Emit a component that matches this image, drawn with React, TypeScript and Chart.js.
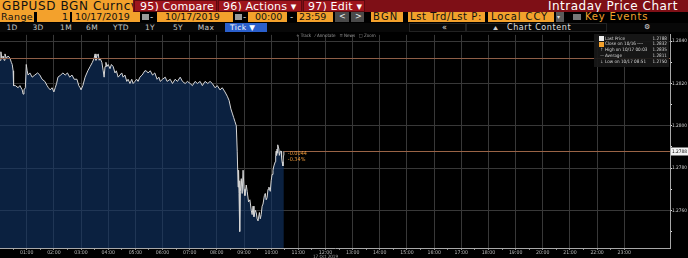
import React, { useEffect, useRef } from "react";
import { Chart, registerables } from "chart.js";
Chart.register(...registerables);

// minutes after midnight, 17 Oct 2019
const minutes = [
  1, 3, 5, 8, 10, 12, 15, 19, 23, 26, 28, 30, 31, 35, 41, 45, 50, 52, 54, 57, 59, 61, 63, 67, 72, 78, 84, 89, 94, 100,
  105, 108, 112, 116, 120, 123, 126, 129, 135, 140, 145, 150, 155, 160, 165, 171, 175, 178, 180, 184, 189, 195, 200, 205,
  209, 211, 213, 215, 218, 220, 222, 226, 229, 231, 233, 235, 237, 240, 244, 247, 251, 255, 258, 262, 266, 270, 273, 277,
  281, 284, 288, 292, 295, 299, 303, 306, 310, 315, 321, 324, 328, 333, 338, 343, 348, 352, 355, 360, 366, 370, 377, 382,
  388, 393, 399, 404, 410, 415, 421, 426, 432, 437, 443, 448, 454, 460, 465, 470, 476, 481, 487, 492, 498, 503, 507, 511,
  514, 517, 520, 523, 525, 527, 528, 529, 530, 531, 532, 534, 536, 538, 540, 542, 545, 547, 550, 553, 556, 558, 560, 562,
  565, 567, 569, 571, 574, 576, 578, 580, 582, 585, 587, 589, 591, 593, 595, 598, 600, 602, 604, 606, 609, 610, 611, 612,
  613, 614, 615, 617, 618, 620, 622, 623, 624, 626, 627, 628,
];
const prices = [
  1.2831, 1.2835, 1.2832, 1.2833, 1.2831, 1.2834, 1.2832, 1.2833, 1.2832, 1.2830, 1.2829, 1.2826, 1.2819, 1.2819, 1.2818,
  1.2819, 1.2817, 1.2815, 1.2817, 1.2818, 1.2829, 1.2826, 1.2824, 1.2825, 1.2823, 1.2824, 1.2825, 1.2824, 1.2822, 1.2821,
  1.2819, 1.2818, 1.2817, 1.2818, 1.2816, 1.2818, 1.2820, 1.2823, 1.2824, 1.2825, 1.2824, 1.2825, 1.2823, 1.2824, 1.2822,
  1.2822, 1.2819, 1.2818, 1.2817, 1.2819, 1.2823, 1.2826, 1.2828, 1.2830, 1.2832, 1.2834, 1.2831, 1.2833, 1.2834, 1.2831,
  1.2832, 1.2830, 1.2826, 1.2823, 1.2828, 1.2830, 1.2828, 1.2829, 1.2827, 1.2829, 1.2828, 1.2825, 1.2826, 1.2823, 1.2824,
  1.2825, 1.2823, 1.2824, 1.2821, 1.2822, 1.2820, 1.2822, 1.2820, 1.2821, 1.2822, 1.2821, 1.2823, 1.2824, 1.2826, 1.2826,
  1.2825, 1.2826, 1.2824, 1.2825, 1.2822, 1.2823, 1.2821, 1.2822, 1.2823, 1.2821, 1.2822, 1.2820, 1.2822, 1.2821, 1.2823,
  1.2821, 1.2820, 1.2821, 1.2820, 1.2819, 1.2821, 1.2820, 1.2821, 1.2819, 1.2821, 1.2820, 1.2821, 1.2820, 1.2818, 1.2819,
  1.2817, 1.2818, 1.2816, 1.2814, 1.2812, 1.2808, 1.2806, 1.2804, 1.2802, 1.2800, 1.2788, 1.2771, 1.2779, 1.2768, 1.2774,
  1.2750, 1.2769, 1.2775, 1.2768, 1.2779, 1.2770, 1.2767, 1.2772, 1.2769, 1.2764, 1.2765, 1.2760, 1.2758, 1.2762, 1.2757,
  1.2760, 1.2759, 1.2756, 1.2755, 1.2759, 1.2756, 1.2758, 1.2762, 1.2763, 1.2767, 1.2768, 1.2765, 1.2766, 1.2770, 1.2771,
  1.2769, 1.2774, 1.2777, 1.2779, 1.2781, 1.2783, 1.2786, 1.2788, 1.2786, 1.2789, 1.2787, 1.2791, 1.2789, 1.2786, 1.2788,
  1.2788, 1.2785, 1.2783, 1.2781, 1.2786, 1.2788,
];

const hourLabels = [
  "01:00", "02:00", "03:00", "04:00", "05:00", "06:00", "07:00", "08:00", "09:00", "10:00", "11:00", "12:00",
  "13:00", "14:00", "15:00", "16:00", "17:00", "18:00", "19:00", "20:00", "21:00", "22:00", "23:00",
];
const yTicks = [1.284, 1.283, 1.282, 1.281, 1.28, 1.279, 1.278, 1.277, 1.276, 1.275];
const yLabelled = [1.284, 1.282, 1.28, 1.278, 1.276];
const yMin = 1.27422;
const yMax = 1.2843;
const xMin = 1;
const xMax = 1481;

const prevClose = 1.2832;
const lastPrice = 1.2788;
const netChange = "-0.0044";
const pctChange = "-0.34%";

const legendNames = ["Last Price", "Close on 10/16 ----", "High on 10/17 00:03", "Average", "Low on 10/17 08:51"];
const legendValues = ["1.2788", "1.2832", "1.2835", "1.2811", "1.2750"];
const legendMarks = ["sq-white", "sq-orange", "↑", "—", "↓"];

const FONT = "'DejaVu Sans', sans-serif";
const NARROW = "'Liberation Sans Narrow', 'DejaVu Sans Condensed', 'Liberation Sans', sans-serif";
const ORANGE = "#f3a12c";

function hhmmToMin(s: string) {
  const [h, m] = s.split(":").map(Number);
  return h * 60 + m;
}

const refPlugin = {
  id: "refLines",
  afterDatasetsDraw(chart: any) {
    const { ctx, chartArea, scales } = chart;
    const x = scales.x;
    const y = scales.y;
    ctx.save();
    ctx.lineWidth = 1;
    ctx.strokeStyle = "#8e5e47";
    const yc = Math.round(y.getPixelForValue(prevClose)) + 0.5;
    ctx.beginPath();
    ctx.moveTo(chartArea.left, yc);
    ctx.lineTo(chartArea.right, yc);
    ctx.stroke();

    const lx = x.getPixelForValue(minutes[minutes.length - 1]);
    const yl = Math.round(y.getPixelForValue(lastPrice)) + 0.5;
    ctx.strokeStyle = "#9a6446";
    ctx.beginPath();
    ctx.moveTo(lx, yl);
    ctx.lineTo(chartArea.right, yl);
    ctx.stroke();

    ctx.fillStyle = "#ee9a3a";
    ctx.font = `5.5px ${NARROW}`;
    ctx.textBaseline = "middle";
    ctx.textAlign = "left";
    ctx.fillText(netChange, lx + 4, yl + 2.5);
    ctx.fillText(pctChange, lx + 4, yl + 8.5);

    // last price tag on axis
    ctx.fillStyle = "#f2f2f2";
    ctx.fillRect(chartArea.right + 1, yl - 4, 18, 8);
    ctx.fillStyle = "#000";
    ctx.font = `4.8px ${NARROW}`;
    ctx.fillText(lastPrice.toFixed(4), chartArea.right + 2, yl + 0.5);
    ctx.restore();
  },
};

function ChartCanvas() {
  const ref = useRef<HTMLCanvasElement | null>(null);
  useEffect(() => {
    if (!ref.current) return;
    const hourTicks = hourLabels.map(hhmmToMin);
    const allTicks: number[] = [];
    for (const h of hourTicks) {
      allTicks.push(h - 30);
      allTicks.push(h);
    }
    const chart = new Chart(ref.current, {
      type: "line",
      data: {
        datasets: [
          {
            data: minutes.map((m, i) => ({ x: m, y: prices[i] })),
            borderColor: "#d6d6d6",
            borderWidth: 1,
            pointRadius: 0,
            fill: "start",
            backgroundColor: "rgba(17,54,104,0.62)",
            tension: 0,
          },
        ],
      },
      options: {
        animation: false,
        responsive: false,
        maintainAspectRatio: false,
        layout: { padding: 0 },
        plugins: { legend: { display: false }, tooltip: { enabled: false } },
        scales: {
          x: {
            type: "linear",
            min: xMin,
            max: xMax,
            afterBuildTicks: (s: any) => {
              s.ticks = allTicks.map((v) => ({ value: v }));
            },
            afterFit: (s: any) => {
              s.height = 10;
            },
            ticks: {
              autoSkip: false,
              maxRotation: 0,
              padding: 0,
              color: "#bdbdbd",
              font: { size: 5.2, family: NARROW },
              callback: (v: any) => {
                const i = hourTicks.indexOf(Number(v));
                return i >= 0 ? hourLabels[i] : "";
              },
            },
            grid: {
              color: (c: any) => (c.tick && hourTicks.includes(c.tick.value) ? "#383838" : "rgba(0,0,0,0)"),
              tickColor: "#8a8a8a",
              tickLength: 2,
              lineWidth: 1,
            },
            border: { color: "#a8a8a8", width: 1 },
          },
          y: {
            position: "right",
            min: yMin,
            max: yMax,
            afterBuildTicks: (s: any) => {
              s.ticks = yTicks.map((v) => ({ value: v }));
            },
            afterFit: (s: any) => {
              s.width = 18;
            },
            ticks: {
              padding: 0,
              color: "#d4d4d4",
              font: { size: 4.8, family: NARROW },
              callback: (v: any) => (yLabelled.includes(Number(v)) ? Number(v).toFixed(4) : ""),
            },
            grid: {
              color: (c: any) => (c.tick && yLabelled.includes(c.tick.value) ? "#383838" : "rgba(0,0,0,0)"),
              tickColor: "#dddddd",
              tickLength: 2,
            },
            border: { color: "#a8a8a8", width: 1 },
          },
        },
      },
      plugins: [refPlugin],
    } as any);
    return () => chart.destroy();
  }, []);
  return (
    <canvas
      ref={ref}
      width={688}
      height={226}
      style={{ position: "absolute", left: 0, top: 32, width: 688, height: 226 }}
    />
  );
}

function Box(props: {
  l: number; t: number; w: number; h: number; bg?: string; c?: string; fs?: number; ls?: number;
  align?: "left" | "right" | "center"; pad?: number; children?: any; border?: string; weight?: number;
}) {
  return (
    <div
      style={{
        position: "absolute",
        left: props.l,
        top: props.t,
        width: props.w,
        height: props.h,
        background: props.bg || "transparent",
        color: props.c || "#fff",
        fontSize: props.fs || 10,
        letterSpacing: (props.ls || 0) + "px",
        lineHeight: props.h + "px",
        textAlign: props.align || "left",
        paddingLeft: props.align === "right" ? 0 : props.pad ?? 2,
        paddingRight: props.align === "right" ? props.pad ?? 2 : 0,
        boxSizing: "border-box",
        whiteSpace: "nowrap",
        overflow: "hidden",
        border: props.border || "none",
        fontWeight: props.weight || 400,
      }}
    >
      {props.children}
    </div>
  );
}

export default function App() {
  useEffect(() => {
    document.body.style.margin = "0";
    document.body.style.background = "#000";
  }, []);
  const periods: [string, number][] = [
    ["1D", 12], ["3D", 38], ["1M", 66], ["6M", 92], ["YTD", 121], ["1Y", 150], ["5Y", 178], ["Max", 206],
  ];
  return (
    <div
      style={{
        position: "fixed",
        left: 0,
        top: 0,
        width: 688,
        height: 258,
        background: "#000",
        overflow: "hidden",
        fontFamily: FONT,
      }}
    >
      {/* Row 1 */}
      <Box l={0} t={0} w={688} h={12} bg="#7e0f16" />
      <Box l={0} t={0} w={133} h={12} bg={ORANGE} c="#111" fs={12} ls={0.6} pad={2}>
        GBPUSD BGN Curncy
      </Box>
      <Box l={134} t={0} w={83} h={12} bg="#9e151d" fs={11} ls={0.2} pad={5} border="1px solid #5e0a0f">
        95) Compare
      </Box>
      <Box l={218} t={0} w={84} h={12} bg="#9e151d" fs={11} ls={0.2} pad={4} border="1px solid #5e0a0f">
        96) Actions ▾
      </Box>
      <Box l={303} t={0} w={62} h={12} bg="#9e151d" fs={11} ls={0.2} pad={4} border="1px solid #5e0a0f">
        97) Edit ▾
      </Box>
      <Box l={480} t={0} w={198} h={12} fs={12} ls={0.5} align="right" pad={0}>
        Intraday Price Chart
      </Box>

      {/* Row 2 */}
      <Box l={0} t={12} w={34} h={10} bg={ORANGE} c="#111" fs={9.5} ls={0.4} pad={1}>Range</Box>
      <Box l={37} t={12} w={33} h={10} bg={ORANGE} c="#111" fs={9.5} align="right" pad={2}>1</Box>
      <Box l={72} t={12} w={68} h={10} bg={ORANGE} c="#111" fs={9.5} pad={3}>10/17/2019</Box>
      <Box l={142} t={14} w={7} h={6} bg="#9a9a9a" />
      <Box l={150} t={12} w={6} h={10} c="#ddd" fs={9} pad={0}>-</Box>
      <Box l={157} t={12} w={76} h={10} bg={ORANGE} c="#111" fs={9.5} pad={8}>10/17/2019</Box>
      <Box l={235} t={14} w={7} h={6} bg="#9a9a9a" />
      <Box l={243} t={12} w={5} h={10} c="#ddd" fs={9} pad={0}>-</Box>
      <Box l={248} t={12} w={39} h={10} bg={ORANGE} c="#111" fs={9.5} pad={7}>00:00</Box>
      <Box l={290} t={12} w={6} h={10} c="#ddd" fs={9} pad={0}>-</Box>
      <Box l={297} t={12} w={36} h={10} bg={ORANGE} c="#111" fs={9.5} pad={2}>23:59</Box>
      <Box l={335} t={12} w={14} h={10} bg="#4a4a4a" c="#eee" fs={8} pad={4}>&lt;</Box>
      <Box l={351} t={12} w={13} h={10} bg="#4a4a4a" c="#eee" fs={8} pad={4}>&gt;</Box>
      <Box l={371} t={12} w={32} h={10} bg={ORANGE} c="#111" fs={10} ls={1.2} pad={2}>BGN</Box>
      <Box l={408} t={12} w={77} h={10} bg={ORANGE} c="#111" fs={10} ls={0.6} pad={2}>Lst Trd/Lst P:</Box>
      <Box l={488} t={12} w={66} h={10} bg={ORANGE} c="#111" fs={10} ls={0.9} pad={3}>Local CCY</Box>
      <Box l={556} t={12} w={8} h={10} bg="#5a5a5a" c="#ddd" fs={6} pad={1}>▾</Box>
      <Box l={573} t={14} w={8} h={6} bg="#777" />
      <Box l={584} t={12} w={80} h={10} c={ORANGE} fs={10} ls={0.8} pad={1}>Key Events</Box>

      {/* Row 3 */}
      <Box l={0} t={23} w={688} h={9} bg="#080808" />
      {periods.map(([p, cx]) => (
        <div
          key={p}
          style={{
            position: "absolute",
            left: cx - 12,
            top: 23,
            width: 24,
            height: 9,
            lineHeight: "9px",
            fontSize: 7.5,
            letterSpacing: "0.3px",
            color: "#c9c9c9",
            textAlign: "center",
          }}
        >
          {p}
        </div>
      ))}
      <Box l={225} t={23} w={42} h={9} bg="#2a5fcc" c="#fff" fs={7.5} ls={0.4} pad={5}>Tick ▼</Box>
      <Box l={409} t={23} w={57} h={9} border="1px solid #222" />
      <Box l={442} t={23} w={12} h={9} c="#ddd" fs={8} pad={0}>«</Box>
      <Box l={466} t={23} w={141} h={9} border="1px solid #222" />
      <Box l={493} t={23} w={12} h={9} c="#ccc" fs={6} pad={0}>⛰</Box>
      <Box l={507} t={23} w={80} h={9} c="#e0e0e0" fs={8} ls={0.6} pad={0}>Chart Content</Box>
      <Box l={644} t={23} w={10} h={9} c="#ddd" fs={7} pad={0}>⚙</Box>

      <ChartCanvas />

      {/* chart toolbar */}
      <div style={{ position: "absolute", left: 296, top: 33, fontSize: 4.5, color: "#9a9a9a", whiteSpace: "nowrap", lineHeight: "5px", fontFamily: NARROW }}>
        + Track &nbsp;&nbsp;⁄ Annotate &nbsp;&nbsp;≡ News &nbsp;&nbsp;□ Zoom
      </div>

      {/* legend */}
      <div
        style={{
          position: "absolute",
          left: 594,
          top: 34,
          width: 75,
          height: 33,
          background: "rgba(24,24,24,0.92)",
          fontFamily: NARROW,
        }}
      >
        {legendNames.map((n, i) => (
          <div
            key={n}
            style={{
              position: "absolute",
              left: 0,
              top: 1.5 + i * 5.9,
              width: 75,
              height: 6,
              fontSize: 4.6,
              lineHeight: "6px",
              color: "#d8d8d8",
              whiteSpace: "nowrap",
            }}
          >
            {legendMarks[i].startsWith("sq") ? (
              <span
                style={{
                  position: "absolute",
                  left: 5,
                  top: 0.5,
                  width: 5,
                  height: 5,
                  background: legendMarks[i] === "sq-white" ? "#f0f0f0" : ORANGE,
                }}
              />
            ) : (
              <span style={{ position: "absolute", left: 6, top: 0, color: "#aaa" }}>{legendMarks[i]}</span>
            )}
            <span style={{ position: "absolute", left: 11 }}>{n}</span>
            <span style={{ position: "absolute", right: 2 }}>{legendValues[i]}</span>
          </div>
        ))}
      </div>

      <div style={{ position: "absolute", left: 313, top: 254, fontSize: 4.5, color: "#aaa", whiteSpace: "nowrap", fontFamily: NARROW }}>
        17 Oct 2019
      </div>
    </div>
  );
}
